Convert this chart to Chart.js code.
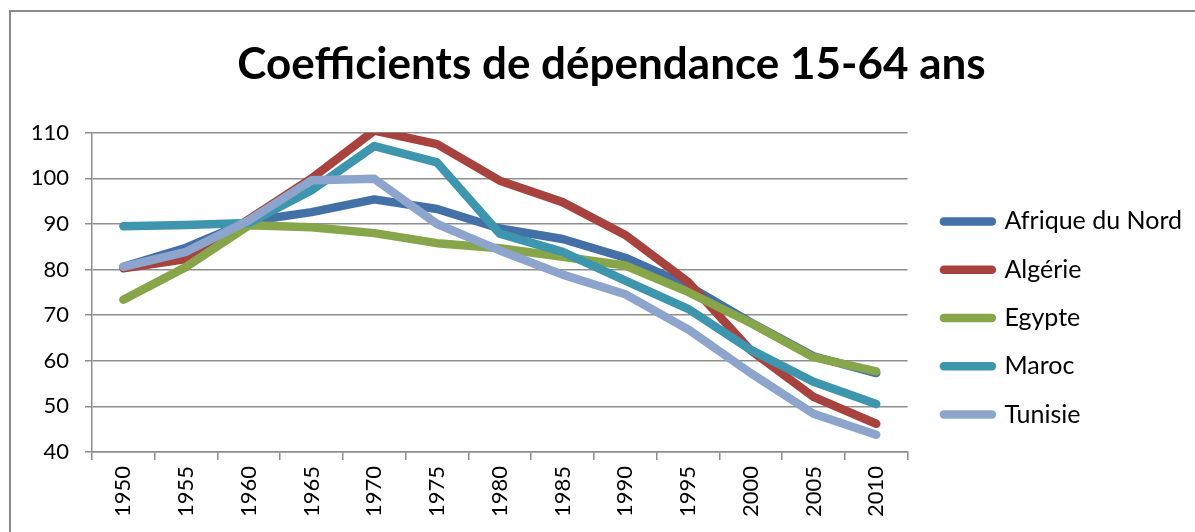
<!DOCTYPE html>
<html>
<head>
<meta charset="utf-8">
<title>Coefficients de dépendance 15-64 ans</title>
<script src="https://cdn.jsdelivr.net/npm/chart.js@4.4.1/dist/chart.umd.min.js"></script>
<style>
  html, body { margin: 0; padding: 0; background: #fff; overflow: hidden; }
  #frame {
    position: absolute; left: 9px; top: 10px;
    width: 1400px; height: 800px;
    border: 2px solid #8a8a8a; box-sizing: border-box;
  }
  #wrap { position: absolute; left: 0; top: 0; width: 1195px; height: 532px; }
</style>
</head>
<body>
<div id="frame"></div>
<div id="wrap"><canvas id="chart" width="1195" height="532"></canvas></div>
<script>
// Data
const years = ['1950', '1955', '1960', '1965', '1970', '1975', '1980', '1985', '1990', '1995', '2000', '2005', '2010'];
const afriqueDuNord = [80.6, 84.8, 90.6, 92.6, 95.4, 93.3, 89.0, 86.7, 82.6, 76.5, 68.4, 61.0, 57.3];
const algerie = [80.3, 82.3, 91.0, 100.0, 110.5, 107.5, 99.5, 94.8, 87.6, 77.3, 62.3, 52.1, 46.2];
const egypte = [73.4, 80.6, 89.7, 89.3, 88.0, 85.8, 84.7, 82.8, 80.9, 75.1, 68.3, 60.8, 57.7];
const maroc = [89.5, 89.8, 90.2, 97.4, 107.1, 103.5, 87.9, 83.9, 77.6, 71.4, 62.4, 55.4, 50.5];
const tunisie = [80.6, 83.9, 90.8, 99.6, 99.9, 90.0, 84.2, 78.9, 74.6, 66.9, 57.3, 48.4, 43.8];

const seriesNames = ['Afrique du Nord', 'Algérie', 'Egypte', 'Maroc', 'Tunisie'];
const seriesValues = [afriqueDuNord, algerie, egypte, maroc, tunisie];
const seriesColors = ['#4470A8', '#A8423F', '#87A64A', '#3D96AE', '#8DA5CD'];

const FONT = 'Lato, "Open Sans", sans-serif';
const GRID = '#8e8e8e';

// later series drawn on top (like Excel): give them a lower order
const datasets = seriesNames.map((name, i) => ({
  label: name,
  data: seriesValues[i],
  borderColor: seriesColors[i],
  backgroundColor: seriesColors[i],
  borderWidth: 8.5,
  borderCapStyle: 'round',
  borderJoinStyle: 'round',
  pointRadius: 0,
  pointHoverRadius: 0,
  tension: 0,
  fill: false,
  order: seriesNames.length - i
}));

// invisible axes used only as spacers around the legend
function spacer(width, weight) {
  return {
    type: 'linear',
    axis: 'y',
    position: 'right',
    display: true,
    weight: weight,
    grid: { display: false },
    border: { display: false },
    ticks: { display: false },
    afterFit: (scale) => { scale.width = width; }
  };
}

const ctx = document.getElementById('chart').getContext('2d');
const chart = new Chart(ctx, {
  type: 'line',
  data: { labels: years, datasets: datasets },
  options: {
    responsive: false,
    animation: false,
    layout: { padding: { left: 28, right: 0, top: 0, bottom: 0 } },
    plugins: {
      title: {
        display: true,
        text: 'Coefficients de dépendance 15-64 ans',
        color: '#000',
        font: { family: FONT, size: 44, weight: 'bold', lineHeight: 1.2 },
        padding: { top: 38, bottom: 42 }
      },
      legend: {
        display: true,
        position: 'right',
        align: 'center',
        maxWidth: 400,
        title: { display: true, text: '', font: { size: 20, lineHeight: 1 }, padding: { top: 84, bottom: 0 } },
        labels: {
          usePointStyle: true,
          pointStyle: 'line',
          pointStyleWidth: 48,
          color: '#000',
          font: { family: FONT, size: 25 },
          padding: 23.3,
          sort: (a, b) => a.datasetIndex - b.datasetIndex,
          generateLabels: (c) => Chart.defaults.plugins.legend.labels.generateLabels(c)
            .map(item => Object.assign(item, { lineCap: 'round', lineWidth: 8.5 }))
        }
      },
      tooltip: { enabled: false }
    },
    scales: {
      x: {
        type: 'category',
        offset: true,
        grid: { offset: true, drawOnChartArea: false, drawTicks: true, tickLength: 8, color: GRID, lineWidth: 1.5 },
        border: { display: true, color: GRID, width: 1.5 },
        ticks: {
          color: '#000',
          font: { family: FONT, size: 22 },
          minRotation: 90,
          maxRotation: 90,
          padding: 6,
          autoSkip: false
        },
        afterFit: (scale) => { scale.height = 80; }
      },
      y: {
        type: 'linear',
        min: 40,
        max: 110,
        grid: { color: GRID, lineWidth: 1.5, tickLength: 7 },
        border: { display: true, color: GRID, width: 1.5 },
        ticks: {
          stepSize: 10,
          color: '#000',
          font: { family: FONT, size: 22 },
          padding: 16
        },
        afterFit: (scale) => { scale.width = 64; }
      },
      gapInner: spacer(13, 0),
      gapOuter: spacer(3, 2000)
    }
  }
});
</script>
</body>
</html>
